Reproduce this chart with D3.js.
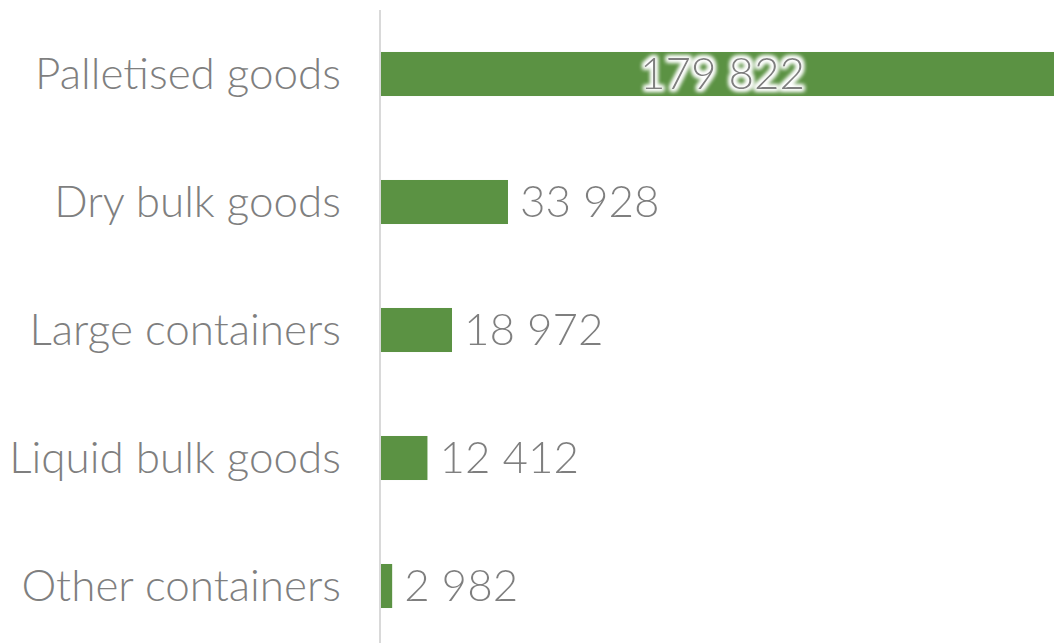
<!DOCTYPE html>
<html>
<head>
<meta charset="utf-8">
<script src="https://cdn.jsdelivr.net/npm/d3@7"></script>
<style>
  html, body { margin: 0; padding: 0; background: #fff; }
  svg text { font-family: Lato, "Open Sans", sans-serif; font-weight: 300; }
</style>
</head>
<body>
<svg id="chart" width="1064" height="643"></svg>
<script>
// categories and values (tonnes)
const categories = ['Palletised goods', 'Dry bulk goods', 'Large containers', 'Liquid bulk goods', 'Other containers'];
const values = [179822, 33928, 18972, 12412, 2982];

const width = 1064, height = 643;
const margin = {top: 10, right: 10, bottom: -7, left: 381};
const barColor = '#5b9243';
const textColor = '#7f7f7f';

const svg = d3.select('#chart');

// soft white halo behind value labels
const defs = svg.append('defs');
const glow = defs.append('filter').attr('id', 'glow')
    .attr('x', '-20%').attr('y', '-40%').attr('width', '140%').attr('height', '180%');
glow.append('feMorphology').attr('in', 'SourceAlpha').attr('operator', 'dilate').attr('radius', 2).attr('result', 'd');
glow.append('feGaussianBlur').attr('in', 'd').attr('stdDeviation', 2).attr('result', 'b');
glow.append('feFlood').attr('flood-color', '#fff');
glow.append('feComposite').attr('in2', 'b').attr('operator', 'in').attr('result', 'w');
const gm = glow.append('feMerge');
gm.append('feMergeNode').attr('in', 'w');
gm.append('feMergeNode').attr('in', 'w');
gm.append('feMergeNode').attr('in', 'SourceGraphic');

const x = d3.scaleLinear()
    .domain([0, d3.max(values)])
    .range([margin.left, width - margin.right]);

const y = d3.scaleBand()
    .domain(categories)
    .range([margin.top, height - margin.bottom])
    .paddingInner(0.656)
    .paddingOuter(0.328);

const data = categories.map((c, i) => ({name: c, value: values[i]}));

// category labels
const yAxis = svg.append('g')
    .attr('transform', 'translate(' + (margin.left - 1) + ',0)')
    .call(d3.axisLeft(y).tickSize(0).tickPadding(39));
yAxis.select('.domain').remove();
yAxis.selectAll('text')
    .attr('fill', textColor)
    .style('font-size', '44px')
    .attr('dy', '0.35em');

// bars
svg.append('g').selectAll('rect')
    .data(data)
    .enter().append('rect')
    .attr('x', x(0))
    .attr('y', d => y(d.name))
    .attr('width', d => x(d.value) - x(0))
    .attr('height', y.bandwidth())
    .attr('fill', barColor);

// vertical axis line
svg.append('line')
    .attr('x1', margin.left - 1).attr('x2', margin.left - 1)
    .attr('y1', 10).attr('y2', height)
    .attr('stroke', '#d9d9d9').attr('stroke-width', 2);

// value labels
const fmt = v => d3.format(',')(v).replace(/,/g, ' ');
const maxV = d3.max(values);
svg.append('g').selectAll('text')
    .data(data)
    .enter().append('text')
    .attr('x', d => d.value === maxV ? (x(0) + x(d.value)) / 2 + 5 : x(d.value) + 12)
    .attr('y', d => y(d.name) + y.bandwidth() / 2)
    .attr('dy', '0.35em')
    .attr('text-anchor', d => d.value === maxV ? 'middle' : 'start')
    .attr('fill', textColor)
    .attr('filter', 'url(#glow)')
    .style('font-size', '44px')
    .text(d => fmt(d.value));
</script>
</body>
</html>
